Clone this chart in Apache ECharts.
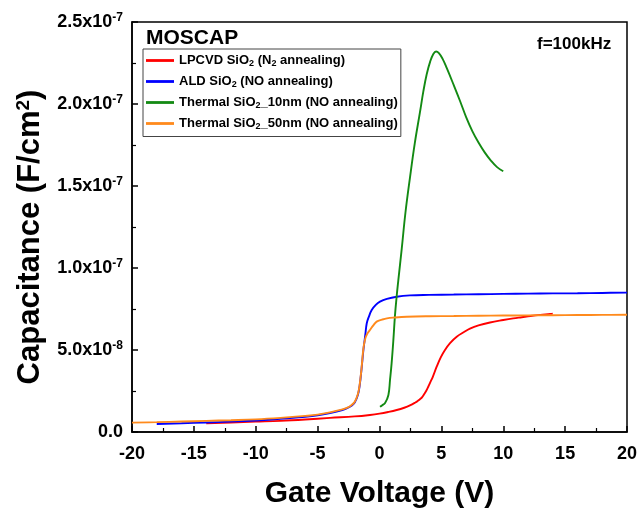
<!DOCTYPE html>
<html>
<head>
<meta charset="utf-8">
<script src="https://cdn.jsdelivr.net/npm/echarts@6/dist/echarts.min.js"></script>
<style>
html,body{margin:0;padding:0;background:#fff;}
#chart{width:639px;height:511px;}
</style>
</head>
<body>
<div id="chart"></div>
<script>
// Series names
var seriesNames = ['LPCVD SiO2 (N2 annealing)', 'ALD SiO2 (NO annealing)', 'Thermal SiO2_10nm (NO annealing)', 'Thermal SiO2_50nm (NO annealing)'];
var legendRich = ['LPCVD SiO{s|2} (N{s|2} annealing)', 'ALD SiO{s|2} (NO annealing)', 'Thermal SiO{s|2}_10nm (NO annealing)', 'Thermal SiO{s|2}_50nm (NO annealing)'];

// LPCVD SiO2 (N2 annealing) - red
var redV = [-14,-12,-10,-8,-6,-4,-2,-0.77,0,0.7,1.39,2,2.46,2.9,3.1,3.27,3.45,3.6,3.78,3.94,4.1,4.3,4.62,4.95,5.29,5.7,6.24,6.8,7.31,8,8.93,10,10.8,11.5,12.2,13,13.8,14];
var redC = [0.53e-8,0.58e-8,0.63e-8,0.68e-8,0.76e-8,0.86e-8,0.95e-8,1.04e-8,1.12e-8,1.22e-8,1.34e-8,1.48e-8,1.62e-8,1.8e-8,1.9e-8,2.0e-8,2.13e-8,2.3e-8,2.52e-8,2.76e-8,3.03e-8,3.35e-8,3.98e-8,4.55e-8,5.0e-8,5.42e-8,5.81e-8,6.08e-8,6.3e-8,6.5e-8,6.68e-8,6.83e-8,6.93e-8,7.0e-8,7.07e-8,7.14e-8,7.2e-8,7.22e-8];

// ALD SiO2 (NO annealing) - blue
var blueV = [-18,-16,-14,-12,-10,-8,-6,-5,-4,-3,-2.65,-2.3,-2,-1.75,-1.6,-1.45,-1.3,-1.15,-1.03,-0.85,-0.63,-0.3,0.04,0.6,1.39,2.46,4,6,8,10,12,14,16,18,20];
var blueC = [0.49e-8,0.53e-8,0.58e-8,0.63e-8,0.7e-8,0.8e-8,0.93e-8,1.02e-8,1.16e-8,1.34e-8,1.44e-8,1.58e-8,1.8e-8,2.25e-8,2.85e-8,3.85e-8,5.0e-8,5.9e-8,6.63e-8,7.05e-8,7.44e-8,7.75e-8,7.95e-8,8.12e-8,8.25e-8,8.33e-8,8.36e-8,8.38e-8,8.4e-8,8.42e-8,8.44e-8,8.45e-8,8.46e-8,8.48e-8,8.5e-8];

// Thermal SiO2_10nm (NO annealing) - green
var greenV = [0.04,0.2,0.45,0.72,0.85,0.98,1.12,1.25,1.39,1.52,1.8,2.1,2.46,2.85,3.27,3.55,3.81,4.1,4.35,4.57,4.8,5.1,5.43,6.0,6.5,7.0,7.5,8.0,8.5,9.0,9.5,10];
var greenC = [1.54e-8,1.62e-8,1.77e-8,2.26e-8,3.17e-8,4.2e-8,5.6e-8,7.1e-8,8.3e-8,9.25e-8,11.2e-8,13.4e-8,15.5e-8,17.6e-8,19.5e-8,20.8e-8,21.8e-8,22.6e-8,23.05e-8,23.2e-8,23.1e-8,22.75e-8,22.2e-8,21.15e-8,20.2e-8,19.2e-8,18.35e-8,17.65e-8,17.05e-8,16.55e-8,16.15e-8,15.9e-8];

// Thermal SiO2_50nm (NO annealing) - orange
var orangeV = [-20,-18,-16,-14,-12,-10,-8,-6,-5,-4,-3,-2.65,-2.3,-2,-1.75,-1.6,-1.45,-1.3,-1.15,-1.0,-0.77,-0.5,-0.23,0.2,0.6,1.2,2.2,4,6,8,10,12,14,16,18,20];
var orangeC = [0.57e-8,0.6e-8,0.64e-8,0.68e-8,0.72e-8,0.77e-8,0.86e-8,0.98e-8,1.06e-8,1.2e-8,1.38e-8,1.47e-8,1.62e-8,1.85e-8,2.3e-8,2.9e-8,3.9e-8,5.1e-8,5.7e-8,5.98e-8,6.22e-8,6.5e-8,6.73e-8,6.85e-8,6.93e-8,6.98e-8,7.03e-8,7.06e-8,7.07e-8,7.09e-8,7.1e-8,7.11e-8,7.12e-8,7.13e-8,7.14e-8,7.15e-8];

var colors = ['#ff0000', '#0000ff', '#138a13', '#ff8a1c'];

function pairs(xs, ys) {
  var out = [];
  for (var i = 0; i < xs.length; i++) out.push([xs[i], ys[i]]);
  return out;
}

function yFmt(v) {
  if (v === 0) return '0.0';
  var e = Math.floor(Math.log10(v) + 1e-9);
  var m = v / Math.pow(10, e);
  return m.toFixed(1) + 'x10{sup|' + e + '}';
}

var FONT = '"Liberation Sans", Arial, sans-serif';
var chart = echarts.init(document.getElementById('chart'), null, {renderer: 'canvas'});

var seriesData = [pairs(redV, redC), pairs(blueV, blueC), pairs(greenV, greenC), pairs(orangeV, orangeC)];
var series = seriesNames.map(function (n, i) {
  return {
    name: n, type: 'line', data: seriesData[i], showSymbol: false, symbol: 'none',
    smooth: 0.4, lineStyle: {color: colors[i], width: 1.9}, itemStyle: {color: colors[i]},
    z: 2 + i, animation: false
  };
});

var option = {
  animation: false,
  backgroundColor: '#fff',
  title: [
    {text: 'MOSCAP', left: 146, top: 28, textStyle: {fontFamily: FONT, fontWeight: 'bold', fontSize: 21, color: '#000'}, padding: 0},
    {text: 'f=100kHz', left: 537, top: 36, textStyle: {fontFamily: FONT, fontWeight: 'bold', fontSize: 17, color: '#000'}, padding: 0}
  ],
  grid: {left: 132, right: 12, top: 22, bottom: 79, containLabel: false, outerBoundsMode: 'none',
    show: true, borderColor: '#000', borderWidth: 1.5, backgroundColor: 'transparent'},
  legend: {
    data: seriesNames, orient: 'vertical', left: 143, top: 49,
    borderColor: '#444', borderWidth: 1, padding: [5, 3, 5, 3],
    itemWidth: 28, itemHeight: 13, itemGap: 6.5, backgroundColor: '#fff',
    icon: 'path://M0,0 L10,0 L10,1 L0,1 Z',
    textStyle: {fontFamily: FONT, fontWeight: 'bold', fontSize: 13, color: '#000',
      rich: {s: {fontFamily: FONT, fontWeight: 'bold', fontSize: 9, color: '#000', padding: [7, 0, 0, 0]}}},
    formatter: function (name) { return legendRich[seriesNames.indexOf(name)]; }
  },
  xAxis: {
    type: 'value', min: -20, max: 20, interval: 5,
    name: 'Gate Voltage (V)', nameLocation: 'middle', nameGap: 47,
    nameTextStyle: {fontFamily: FONT, fontWeight: 'bold', fontSize: 30, color: '#000'},
    axisLine: {show: true, onZero: false, lineStyle: {color: '#000', width: 1.5}},
    axisTick: {show: true, inside: true, length: 6, lineStyle: {color: '#000', width: 1.5}},
    minorTick: {show: true, splitNumber: 2, length: 4, lineStyle: {color: '#000', width: 1.2}},
    axisLabel: {fontFamily: FONT, fontWeight: 'bold', fontSize: 18, color: '#000', margin: 13},
    splitLine: {show: false}
  },
  yAxis: {
    type: 'value', min: 0, max: 2.5e-7, interval: 0.5e-7,
    name: 'Capacitance (F/cm{sup|2})', nameLocation: 'middle', nameGap: 76, nameRotate: 90,
    nameTextStyle: {fontFamily: FONT, fontWeight: 'bold', fontSize: 31, color: '#000', padding: [0, 20, 0, 0],
      rich: {sup: {fontFamily: FONT, fontWeight: 'bold', fontSize: 19, color: '#000', padding: [0, 0, 15, 0]}}},
    axisLine: {show: true, onZero: false, lineStyle: {color: '#000', width: 1.5}},
    axisTick: {show: true, inside: true, length: 6, lineStyle: {color: '#000', width: 1.5}},
    minorTick: {show: true, splitNumber: 2, length: 4, lineStyle: {color: '#000', width: 1.2}},
    axisLabel: {fontFamily: FONT, fontWeight: 'bold', fontSize: 18, color: '#000', margin: 9,
      formatter: yFmt,
      rich: {sup: {fontFamily: FONT, fontWeight: 'bold', fontSize: 12, color: '#000', padding: [0, 0, 9, 0]}}},
    splitLine: {show: false}
  },
  series: series
};
chart.setOption(option);
</script>
</body>
</html>
